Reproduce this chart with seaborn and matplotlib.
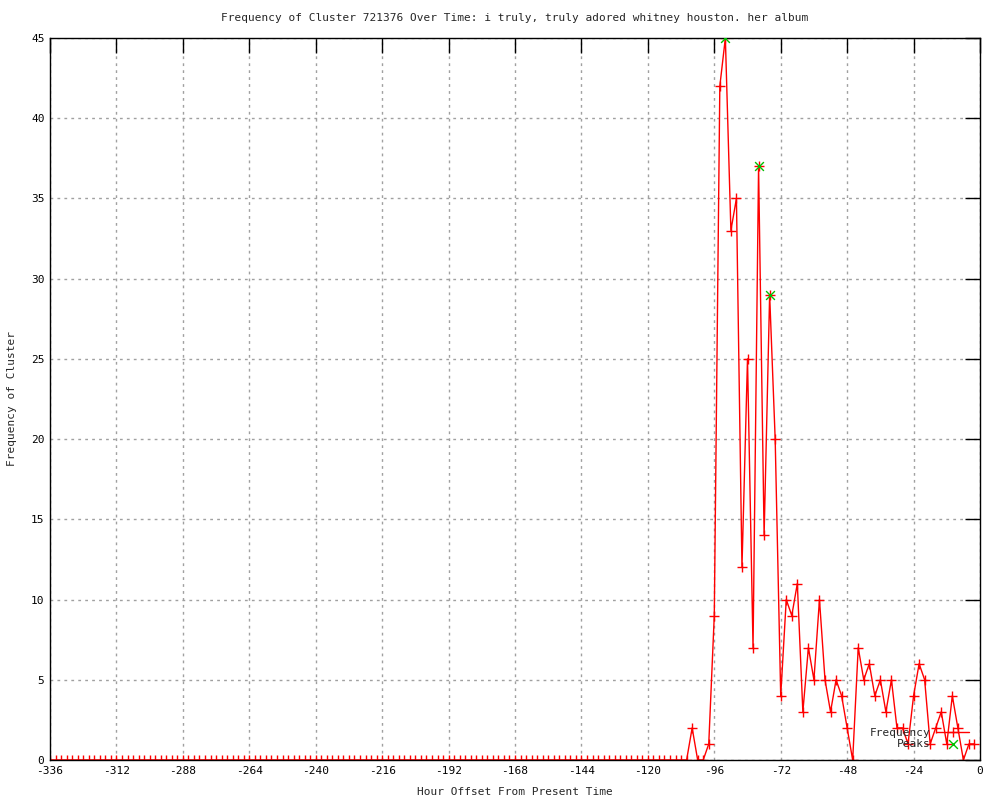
import numpy as np
import pandas as pd
import seaborn as sns
import matplotlib
matplotlib.use("Agg")
import matplotlib.pyplot as plt

# hour offsets, one sample every 2 hours
hours = list(range(-336, 0, 2))

# frequency per 2 hour bin (all zero before -104)
freq = [0] * 116 + [
    2, 0, 0, 1, 9, 42, 45, 33, 35, 12, 25, 7, 37, 14, 29, 20,
    4, 10, 9, 11, 3, 7, 5, 10, 5, 3, 5, 4, 2, 0, 7, 5,
    6, 4, 5, 3, 5, 2, 2, 1, 4, 6, 5, 1, 2, 3, 1, 4,
    2, 0, 1, 1,
]

peak_hours = [-92, -80, -76]
peak_freq = [45, 37, 29]

title = "Frequency of Cluster 721376 Over Time: i truly, truly adored whitney houston. her album"

df = pd.DataFrame({"hour": hours, "freq": freq})
peaks = pd.DataFrame({"hour": peak_hours, "freq": peak_freq})

sns.set_style("white")
plt.rcParams["font.family"] = ["DejaVu Sans Mono"]
plt.rcParams["axes.unicode_minus"] = False

fig = plt.figure(figsize=(10, 8), dpi=100)
ax = fig.add_axes([0.05, 0.05, 0.93, 0.9025])

sns.lineplot(x="hour", y="freq", data=df, ax=ax, color="red", linewidth=1,
             marker="+", markersize=7, markeredgewidth=1, markeredgecolor="red",
             label="Frequency")
sns.scatterplot(x="hour", y="freq", data=peaks, ax=ax, marker="x",
                color="#00c000", s=40, linewidth=1, label="Peaks", zorder=5)

ax.set_xlim(-336, 0)
ax.set_ylim(0, 45)
ax.set_xticks(range(-336, 1, 24))
ax.set_yticks(range(0, 46, 5))
ax.grid(True, color="#a0a0a0", linestyle=(0, (2, 3)), linewidth=1)
ax.tick_params(direction="in", length=11, width=1, top=True, right=True,
               labelsize=8, colors="black", pad=4)
for s in ax.spines.values():
    s.set_color("black")
    s.set_linewidth(1)

ax.set_xlabel("Hour Offset From Present Time", fontsize=8, labelpad=8)
ax.set_ylabel("Frequency of Cluster", fontsize=8, labelpad=10)
ax.set_title(title, fontsize=8, pad=12)

ax.legend(loc="lower right", bbox_to_anchor=(0.997, 0.005), frameon=False,
          markerfirst=False, fontsize=8, handlelength=3, labelspacing=0.1,
          borderpad=0.2, handletextpad=0.5)

fig.savefig("out.png", dpi=100)
